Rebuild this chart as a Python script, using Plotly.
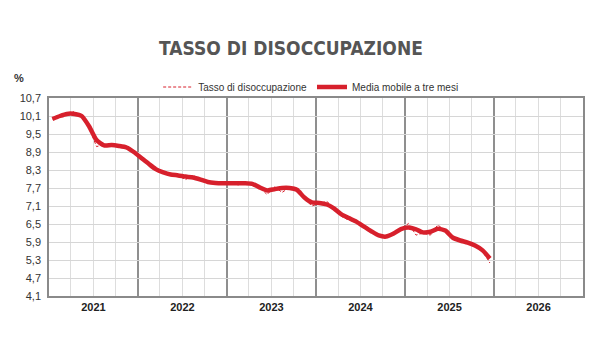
import plotly.graph_objects as go
import pandas as pd

# Monthly observations, Jan 2021 - Dec 2025 (plotted mid-month)
months = pd.date_range("2021-01-01", periods=60, freq="MS") + pd.Timedelta(days=14)

tasso = [
    10.0, 10.1, 10.15, 10.25, 10.1, 9.7, 9.08, 9.15, 9.15, 9.1, 9.05, 8.9,
    8.7, 8.5, 8.35, 8.2, 8.15, 8.12, 7.98, 8.12, 8.0, 7.9, 7.85, 7.85,
    7.88, 7.8, 7.88, 7.85, 7.72, 7.48, 7.75, 7.55, 7.72, 7.7, 7.35, 7.1,
    7.18, 7.25, 7.05, 6.75, 6.63, 6.56, 6.4, 6.28, 6.12, 6.05, 6.15, 6.3,
    6.52, 6.13, 6.2, 6.13, 6.47, 6.28, 6.02, 5.98, 5.87, 5.78, 5.6, 5.2,
]

media_mobile = [
    10.0, 10.1, 10.17, 10.17, 10.1, 9.75, 9.3, 9.12, 9.13, 9.1, 9.05, 8.9,
    8.7, 8.5, 8.33, 8.22, 8.15, 8.12, 8.08, 8.05, 7.98, 7.9, 7.87, 7.86,
    7.86, 7.86, 7.86, 7.84, 7.72, 7.62, 7.66, 7.7, 7.7, 7.64, 7.38, 7.22,
    7.2, 7.15, 7.02, 6.82, 6.7, 6.58, 6.42, 6.26, 6.12, 6.08, 6.18, 6.33,
    6.38, 6.32, 6.22, 6.24, 6.34, 6.28, 6.05, 5.95, 5.88, 5.78, 5.62, 5.35,
]

y_ticks = [4.1, 4.7, 5.3, 5.9, 6.5, 7.1, 7.7, 8.3, 8.9, 9.5, 10.1, 10.7]
y_labels = ["4,1", "4,7", "5,3", "5,9", "6,5", "7,1", "7,7", "8,3", "8,9", "9,5", "10,1", "10,7"]

RED = "#d7202c"
FONT = "Liberation Sans Narrow, Arial Narrow, Liberation Sans, Arial, sans-serif"
TITLE_FONT = "DejaVu Sans Condensed, Liberation Sans Narrow, Liberation Sans, Arial, sans-serif"

fig = go.Figure()
fig.add_trace(go.Scatter(
    x=months, y=tasso, mode="lines", name="Tasso di disoccupazione",
    line=dict(color=RED, width=1, dash="3px,2px"),
))
fig.add_trace(go.Scatter(
    x=months, y=media_mobile, mode="lines", name="Media mobile a tre mesi",
    line=dict(color=RED, width=4.5, shape="spline", smoothing=0.6),
))

fig.update_layout(
    width=600, height=360,
    margin=dict(l=36, r=25, t=90, b=72),
    paper_bgcolor="white", plot_bgcolor="white",
    font=dict(family=FONT, color="#333333", size=11),
    title=dict(text="TASSO DI DISOCCUPAZIONE", x=(291 - 8) / 600, xanchor="center",
               y=1 - 40 / 360, yanchor="middle",
               font=dict(family=TITLE_FONT, size=19, color="#555555", weight=700)),
    showlegend=True,
    legend=dict(orientation="h", x=0.49, xanchor="center", y=1 + 11 / 198, yanchor="middle",
                font=dict(family=FONT, size=10, color="#333333"),
                itemwidth=30, bgcolor="rgba(0,0,0,0)", traceorder="normal"),
    xaxis=dict(
        type="date", range=["2021-01-01", "2027-01-01"],
        tick0="2021-01-01", dtick="M12", tickformat="%Y", ticklabelmode="period",
        showgrid=True, gridcolor="#8f8f8f", gridwidth=1.5,
        showline=True, linecolor="#8a8a8a", linewidth=1.5, mirror=True,
        ticks="", tickfont=dict(family=FONT, size=11, color="#222222", weight=700),
        minor=dict(dtick="M3", showgrid=True, gridcolor="#dddddd", gridwidth=1),
        fixedrange=True,
    ),
    yaxis=dict(
        range=[4.1, 10.7], tickvals=y_ticks, ticktext=y_labels,
        showgrid=True, gridcolor="#d6d6d6", gridwidth=1,
        showline=True, linecolor="#8a8a8a", linewidth=1.5, mirror=True,
        ticks="", ticklabelstandoff=4,
        tickfont=dict(family=FONT, size=11, color="#333333"),
        zeroline=False, fixedrange=True,
    ),
    annotations=[dict(text="%", xref="paper", yref="paper", x=-0.056, y=1 + 20 / 198,
                      xanchor="center", yanchor="middle", showarrow=False,
                      font=dict(family=FONT, size=11, color="#333333", weight=700))],
)

fig.write_html("out.html")
